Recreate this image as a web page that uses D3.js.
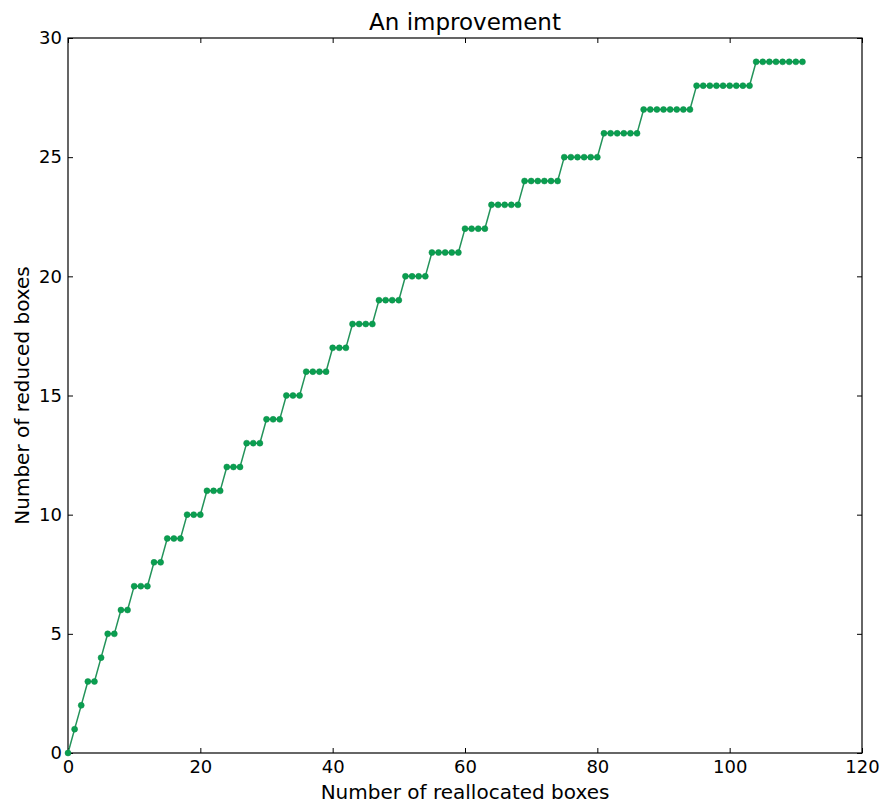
<!DOCTYPE html>
<html>
<head>
<meta charset="utf-8">
<script src="https://cdn.jsdelivr.net/npm/d3@7"></script>
<style>
  body { margin: 0; background: #fff; }
  text { font-family: "DejaVu Sans", sans-serif; fill: #000; }
</style>
</head>
<body>
<div id="chart-container"></div>
<script>
// number of reallocated boxes at which each level of reduced boxes starts, and how many points sit on it
const levels = [0, 1, 2, 3, 4, 5, 6, 7, 8, 9, 10, 11, 12, 13, 14, 15, 16, 17, 18, 19, 20, 21, 22, 23, 24, 25, 26, 27, 28, 29];
const runLengths = [1, 1, 1, 2, 1, 2, 2, 3, 2, 3, 3, 3, 3, 3, 3, 3, 4, 3, 4, 4, 4, 5, 4, 5, 6, 6, 6, 8, 9, 8];
const xTicks = [0, 20, 40, 60, 80, 100, 120];
const yTicks = [0, 5, 10, 15, 20, 25, 30];

// expand into one point per reallocated box
const points = [];
levels.forEach((lv, i) => {
    for (let k = 0; k < runLengths[i]; k++) {
        points.push({x: points.length, y: lv});
    }
});

const margin = {top: 38, right: 21, bottom: 52, left: 68};
const width = 883 - margin.left - margin.right;
const height = 805 - margin.top - margin.bottom;

const svg = d3.select("#chart-container")
    .append("svg")
        .attr("width", 883)
        .attr("height", 805)
    .append("g")
        .attr("transform", `translate(${margin.left}, ${margin.top})`);

const xScale = d3.scaleLinear().domain([0, 120]).range([0, width]);
const yScale = d3.scaleLinear().domain([0, 30]).range([height, 0]);

// axes, ticks pointing inward on all four sides
const styleAxis = g => {
    g.select(".domain").remove();
    g.selectAll(".tick line").attr("stroke", "#000");
    g.selectAll(".tick text").style("font-size", "18px");
};
svg.append("g")
    .attr("transform", `translate(0, ${height})`)
    .call(d3.axisBottom(xScale).tickValues(xTicks).tickSizeInner(-5).tickSizeOuter(0).tickPadding(7))
    .call(styleAxis);
svg.append("g")
    .call(d3.axisTop(xScale).tickValues(xTicks).tickSizeInner(-5).tickSizeOuter(0).tickFormat(""))
    .call(styleAxis);
svg.append("g")
    .call(d3.axisLeft(yScale).tickValues(yTicks).tickSizeInner(-5).tickSizeOuter(0).tickPadding(6))
    .call(styleAxis);
svg.append("g")
    .attr("transform", `translate(${width}, 0)`)
    .call(d3.axisRight(yScale).tickValues(yTicks).tickSizeInner(-5).tickSizeOuter(0).tickFormat(""))
    .call(styleAxis);

// frame
svg.append("rect")
    .attr("width", width)
    .attr("height", height)
    .attr("fill", "none")
    .attr("stroke", "#000")
    .attr("stroke-width", 1.2);

// line
const line = d3.line()
    .x(d => xScale(d.x))
    .y(d => yScale(d.y));
svg.append("path")
    .datum(points)
    .attr("fill", "none")
    .attr("stroke", "#23935a")
    .attr("stroke-width", 1.5)
    .attr("d", line);

// markers
svg.selectAll(".dot")
    .data(points)
    .join("circle")
        .attr("class", "dot")
        .attr("cx", d => xScale(d.x))
        .attr("cy", d => yScale(d.y))
        .attr("r", 3)
        .attr("fill", "#0a9f50")
        .attr("stroke", "#0a8a48")
        .attr("stroke-width", 0.5);

// title and labels
svg.append("text")
    .attr("x", width / 2)
    .attr("y", -8)
    .style("text-anchor", "middle")
    .style("font-size", "23px")
    .text("An improvement");
svg.append("text")
    .attr("x", width / 2)
    .attr("y", height + 46)
    .style("text-anchor", "middle")
    .style("font-size", "20px")
    .text("Number of reallocated boxes");
svg.append("text")
    .attr("transform", "rotate(-90)")
    .attr("x", -height / 2)
    .attr("y", -margin.left + 29)
    .style("text-anchor", "middle")
    .style("font-size", "20px")
    .text("Number of reduced boxes");
</script>
</body>
</html>
